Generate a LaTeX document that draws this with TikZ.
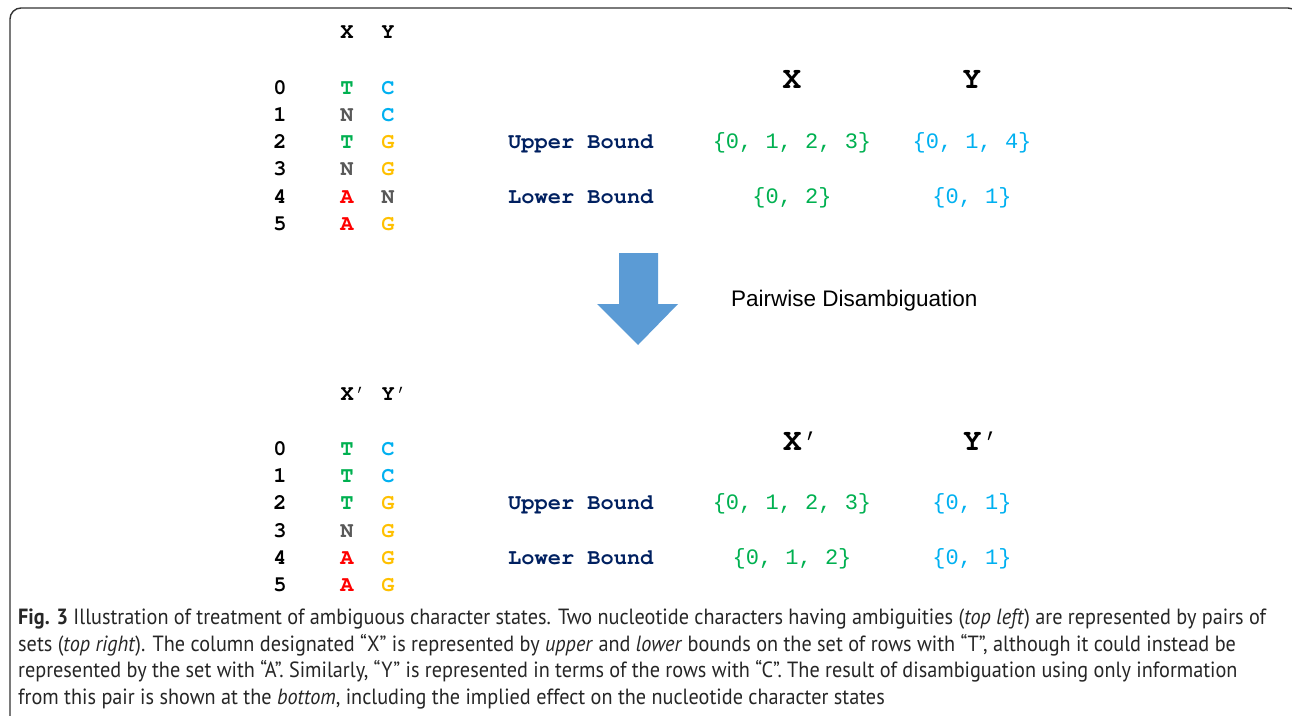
\documentclass[tikz,border=0pt]{standalone}
\usepackage{fontspec}
\setmainfont{Liberation Sans}
\newfontfamily\monof{Liberation Mono}
\newfontfamily\courf{TeX Gyre Cursor}
\newfontfamily\capfont[FakeStretch=0.92]{PT Sans}
\definecolor{cgreen}{HTML}{00B050}
\definecolor{ccyan}{HTML}{00B0F0}
\definecolor{cgold}{HTML}{FFC000}
\definecolor{cred}{HTML}{FF0000}
\definecolor{cgray}{HTML}{595959}
\definecolor{cnavy}{HTML}{002060}
\definecolor{carrow}{HTML}{5B9BD5}
\definecolor{cframe}{HTML}{333333}
\newcommand{\pr}{{\mdseries ’}}
\tikzset{
  mb/.style={font=\courf\fontsize{22}{26}\selectfont\bfseries, inner sep=0pt, anchor=base},
  mr/.style={font=\monof\fontsize{22}{26}\selectfont, inner sep=0pt, anchor=base},
  big/.style={font=\courf\fontsize{31}{34}\selectfont\bfseries, inner sep=0pt, anchor=base},
  capline/.style={font=\capfont\fontsize{22}{26}\selectfont, inner sep=0pt, anchor=base west, text=black!85},
}
\begin{document}
\begin{tikzpicture}[x=1pt,y=-1pt]
\useasboundingbox (0,0) rectangle (1292,715);
% frame
\draw[cframe, line width=1.4pt, rounded corners=11pt] (10,740) -- (10,8) -- (1299,8) -- (1299,740);

% ---------- top table ----------
\node[mb] (hx) at (347,38) {X};
\node[mb] (hy) at (388,38) {Y};
\foreach \i/\yy in {0/94,1/121,2/148,3/175,4/203,5/230}{
  \node[mb] (r\i) at (280,\yy) {\i};
}
\node[mb, text=cgreen] (x0) at (347,94) {T};
\node[mb, text=cgray]  (x1) at (347,121) {N};
\node[mb, text=cgreen] (x2) at (347,148) {T};
\node[mb, text=cgray]  (x3) at (347,175) {N};
\node[mb, text=cred]   (x4) at (347,203) {A};
\node[mb, text=cred]   (x5) at (347,230) {A};
\node[mb, text=ccyan]  (y0) at (388,94) {C};
\node[mb, text=ccyan]  (y1) at (388,121) {C};
\node[mb, text=cgold]  (y2) at (388,148) {G};
\node[mb, text=cgold]  (y3) at (388,175) {G};
\node[mb, text=cgray]  (y4) at (388,203) {N};
\node[mb, text=cgold]  (y5) at (388,230) {G};

\node[big] (bx) at (792,88) {X};
\node[big] (by) at (972,88) {Y};
\node[mb, text=cnavy, anchor=base west] (ub) at (508,148) {Upper Bound};
\node[mb, text=cnavy, anchor=base west] (lb) at (508,203) {Lower Bound};
\node[mr, text=cgreen] (ubx) at (792,148) {\{0, 1, 2, 3\}};
\node[mr, text=ccyan]  (uby) at (972,148) {\{0, 1, 4\}};
\node[mr, text=cgreen] (lbx) at (792,203) {\{0, 2\}};
\node[mr, text=ccyan]  (lby) at (972,203) {\{0, 1\}};

% ---------- arrow ----------
\fill[carrow] (619,253) -- (658,253) -- (658,304) -- (678,304) -- (638,345) -- (597,304) -- (619,304) -- cycle;
\node[font=\fontsize{22.5}{26}\selectfont, inner sep=0pt, anchor=base west] (pd) at (731,306) {Pairwise Disambiguation};

% ---------- bottom table ----------
\node[mb, anchor=base west] (hx2) at (340.4,400) {X\pr};
\node[mb, anchor=base west] (hy2) at (381.4,400) {Y\pr};
\foreach \i/\yy in {0/455,1/482,2/509,3/537,4/564,5/591}{
  \node[mb] (s\i) at (280,\yy) {\i};
}
\node[mb, text=cgreen] (xx0) at (347,455) {T};
\node[mb, text=cgreen] (xx1) at (347,482) {T};
\node[mb, text=cgreen] (xx2) at (347,509) {T};
\node[mb, text=cgray]  (xx3) at (347,537) {N};
\node[mb, text=cred]   (xx4) at (347,564) {A};
\node[mb, text=cred]   (xx5) at (347,591) {A};
\node[mb, text=ccyan]  (yy0) at (388,455) {C};
\node[mb, text=ccyan]  (yy1) at (388,482) {C};
\node[mb, text=cgold]  (yy2) at (388,509) {G};
\node[mb, text=cgold]  (yy3) at (388,537) {G};
\node[mb, text=cgold]  (yy4) at (388,564) {G};
\node[mb, text=cgold]  (yy5) at (388,591) {G};

\node[big, anchor=base west] (bx2) at (783,450) {X\pr};
\node[big, anchor=base west] (by2) at (963,450) {Y\pr};
\node[mb, text=cnavy, anchor=base west] (ub2) at (508,509) {Upper Bound};
\node[mb, text=cnavy, anchor=base west] (lb2) at (508,564) {Lower Bound};
\node[mr, text=cgreen] (ubx2) at (792,509) {\{0, 1, 2, 3\}};
\node[mr, text=ccyan]  (uby2) at (972,509) {\{0, 1\}};
\node[mr, text=cgreen] (lbx2) at (792,564) {\{0, 1, 2\}};
\node[mr, text=ccyan]  (lby2) at (972,564) {\{0, 1\}};

% ---------- caption ----------
\node[capline] (c1) at (18,624) {\textbf{Fig. 3} Illustration of treatment of ambiguous character states. Two nucleotide characters having ambiguities (\textit{top left}) are represented by pairs of};
\node[capline] (c2) at (18,651) {sets (\textit{top right}). The column designated “X” is represented by \textit{upper} and \textit{lower} bounds on the set of rows with “T”, although it could instead be};
\node[capline] (c3) at (18,677) {represented by the set with “A”. Similarly, “Y” is represented in terms of the rows with “C”. The result of disambiguation using only information};
\node[capline] (c4) at (18,704) {from this pair is shown at the \textit{bottom}, including the implied effect on the nucleotide character states};
\end{tikzpicture}
\end{document}
